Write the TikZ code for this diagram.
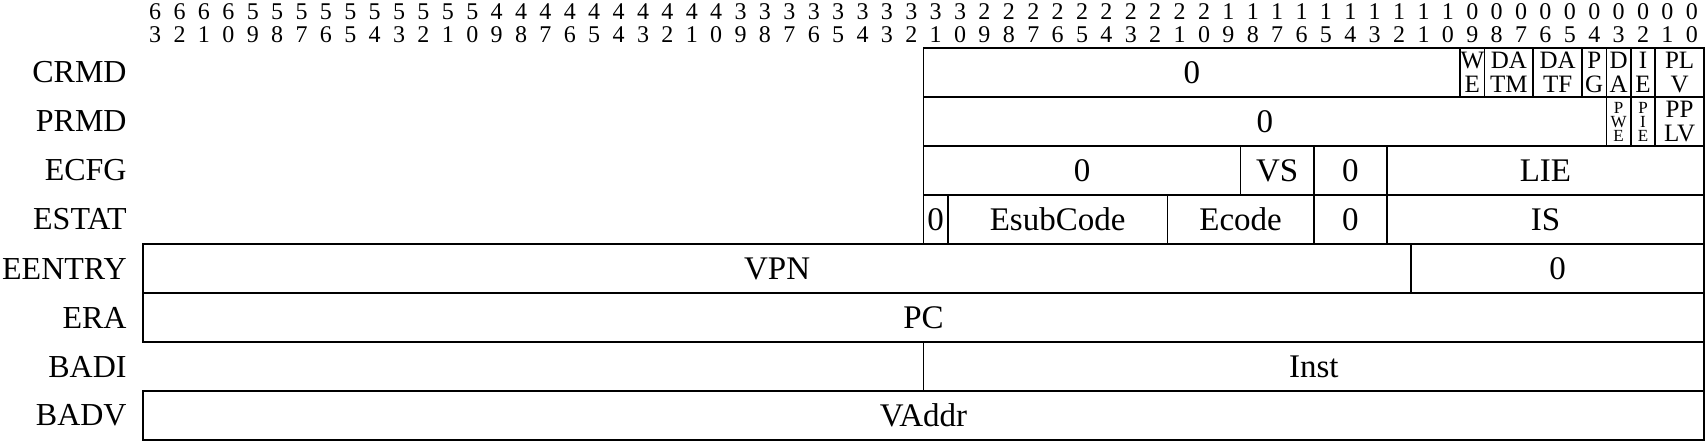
\documentclass[tikz,border=0pt]{standalone}
\usepackage{fontspec}
\setmainfont{Liberation Serif}
\usepackage{tikz}

% one field of a register: [style] name, row, high bit, low bit, text
\newcommand{\regfield}[6][]{%
  \node[field,#1,minimum width={(#4-#5+1)*12.195pt}] (#2) at ({(127-#4-#5)/2},{-#3-0.5}) {#6};}

\begin{document}
\begin{tikzpicture}[x=12.195pt, y=24.5pt,
  field/.style={draw, line width=0.9pt, inner sep=0pt, minimum height=24.5pt,
    align=center, font=\fontsize{16.5}{18}\selectfont},
  fieldsmall/.style={font=\fontsize{12.5}{12}\selectfont},
  fieldtiny/.style={font=\fontsize{8.5}{7}\selectfont},
  bitnum/.style={inner sep=0pt, font=\fontsize{12}{12}\selectfont},
  reglabel/.style={anchor=east, inner sep=0pt, font=\fontsize{16}{18}\selectfont}]
\useasboundingbox (-5.863, 0.98) rectangle (64.123, -8.0204);
%bit numbers
\foreach \b in {0,...,63}
{
  \pgfmathtruncatemacro{\tens}{\b/10}
  \pgfmathtruncatemacro{\ones}{mod(\b,10)}
  \node[bitnum] (t\b) at (63.5-\b, 0.735) {\tens};
  \node[bitnum] (o\b) at (63.5-\b, 0.265) {\ones};
}
%register names
\foreach \reg [count=\r from 0] in {CRMD,PRMD,ECFG,ESTAT,EENTRY,ERA,BADI,BADV}
{
  \node[reglabel] (r\r) at (-0.656, -\r-0.5) {\reg};
}
%CRMD
\regfield{crmdzero}{0}{31}{10}{0}
\regfield[fieldsmall]{crmdwe}{0}{9}{9}{W\\E}
\regfield[fieldsmall]{crmddatm}{0}{8}{7}{DA\\TM}
\regfield[fieldsmall]{crmddatf}{0}{6}{5}{DA\\TF}
\regfield[fieldsmall]{crmdpg}{0}{4}{4}{P\\G}
\regfield[fieldsmall]{crmdda}{0}{3}{3}{D\\A}
\regfield[fieldsmall]{crmdie}{0}{2}{2}{I\\E}
\regfield[fieldsmall]{crmdplv}{0}{1}{0}{PL\\V}
%PRMD
\regfield{prmdzero}{1}{31}{4}{0}
\regfield[fieldtiny]{prmdpwe}{1}{3}{3}{P\\W\\E}
\regfield[fieldtiny]{prmdpie}{1}{2}{2}{P\\I\\E}
\regfield[fieldsmall]{prmdpplv}{1}{1}{0}{PP\\LV}
%ECFG
\regfield{ecfgzero}{2}{31}{19}{0}
\regfield{ecfgvs}{2}{18}{16}{VS}
\regfield{ecfgzerob}{2}{15}{13}{0}
\regfield{ecfglie}{2}{12}{0}{LIE}
%ESTAT
\regfield{estatzero}{3}{31}{31}{0}
\regfield{estatesub}{3}{30}{22}{EsubCode}
\regfield{estatecode}{3}{21}{16}{Ecode}
\regfield{estatzerob}{3}{15}{13}{0}
\regfield{estatis}{3}{12}{0}{IS}
%EENTRY
\regfield{eentryvpn}{4}{63}{12}{VPN}
\regfield{eentryzero}{4}{11}{0}{0}
%ERA, BADI, BADV
\regfield{erapc}{5}{63}{0}{PC}
\regfield{badiinst}{6}{31}{0}{Inst}
\regfield{badvvaddr}{7}{63}{0}{VAddr}
\end{tikzpicture}
\end{document}
